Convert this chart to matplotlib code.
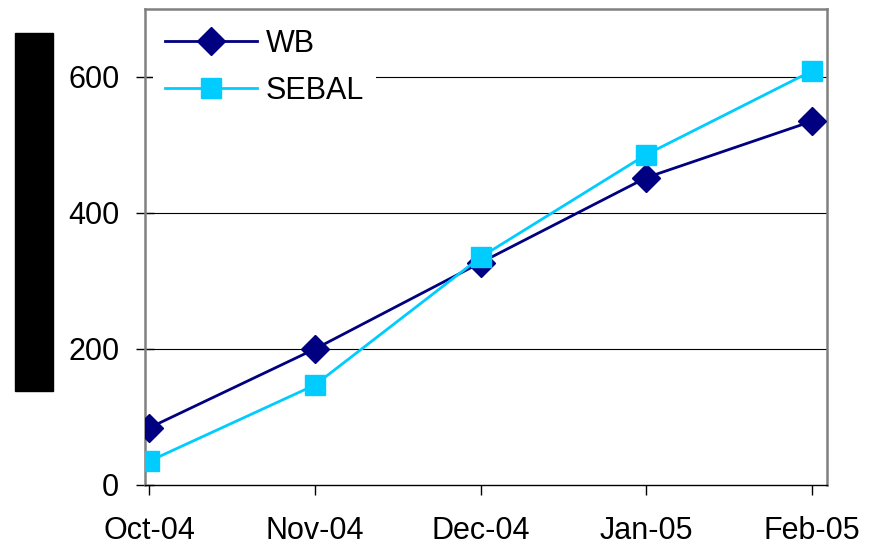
import matplotlib
matplotlib.use("Agg")
import matplotlib.pyplot as plt
from matplotlib.patches import Rectangle

months = ["Oct-04", "Nov-04", "Dec-04", "Jan-05", "Feb-05"]
wb = [84, 200, 327, 452, 535]
sebal = [35, 147, 335, 486, 609]
yticks = [0, 200, 400, 600]

plt.rcParams["font.family"] = ["Liberation Sans", "DejaVu Sans"]

W, H = 881, 544
fig = plt.figure(figsize=(W / 100, H / 100), dpi=100)
ax = fig.add_axes([145 / W, 1 - 485 / H, (827 - 145) / W, (485 - 9) / H])

x = list(range(len(months)))
ax.plot(x, wb, color="#000080", lw=2, marker="D", ms=14, label="WB", zorder=3)
ax.plot(x, sebal, color="#00CCFF", lw=2, marker="s", ms=14, label="SEBAL", zorder=3)

ax.set_xlim(-0.025, 4.09)
ax.set_ylim(0, 700)
ax.set_xticks(x)
ax.set_xticklabels(months)
ax.set_yticks(yticks)
for v in yticks[1:]:
    ax.axhline(v, color="black", lw=0.8, zorder=1)

for s in ["left", "top", "right"]:
    ax.spines[s].set_color("#808080")
    ax.spines[s].set_linewidth(1.8)
ax.spines["bottom"].set_color("black")
ax.spines["bottom"].set_linewidth(1)
ax.spines["bottom"].set_zorder(4)

ax.tick_params(axis="y", direction="inout", length=13, width=1, pad=12, labelsize=22)
ax.tick_params(axis="x", direction="out", length=7, width=1, pad=15, labelsize=22)

leg = ax.legend(loc="upper left", bbox_to_anchor=(0.0, 1.0), fontsize=22,
                frameon=True, fancybox=False, framealpha=1, facecolor="white",
                edgecolor="none", handlelength=3.0, handletextpad=0.3,
                labelspacing=0.55, borderaxespad=0.25, borderpad=0.4)
leg.set_zorder(5)

# redacted y-axis label
fig.patches.append(Rectangle((15 / W, 1 - 391 / H), 38 / W, 358 / H,
                             transform=fig.transFigure, color="black"))

fig.savefig("out.png", dpi=100)
